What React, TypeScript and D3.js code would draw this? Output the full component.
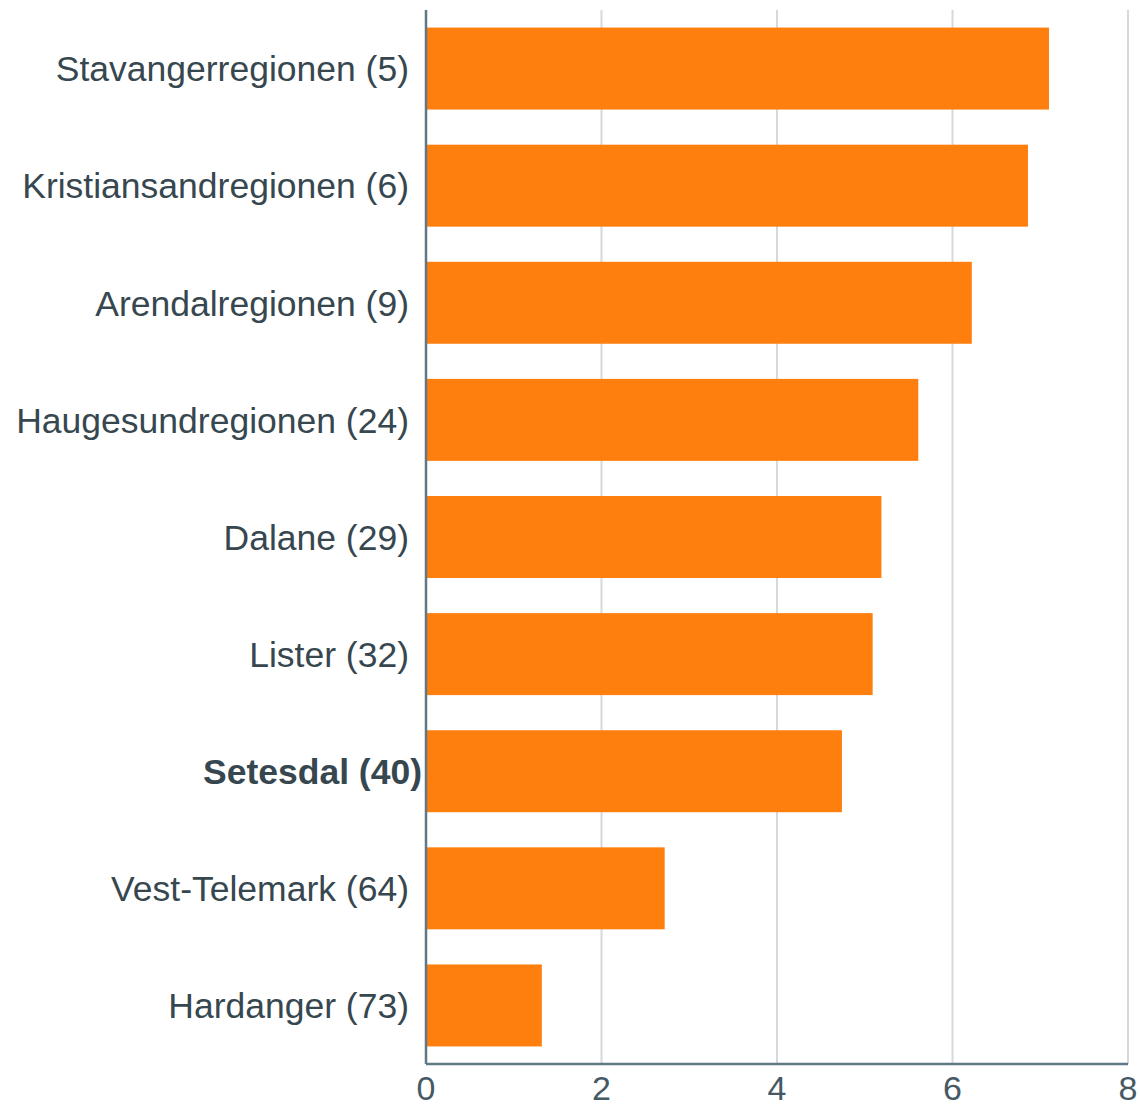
import { useEffect, useRef } from "react";
import * as d3 from "d3";

const regions = [
  "Stavangerregionen (5)",
  "Kristiansandregionen (6)",
  "Arendalregionen (9)",
  "Haugesundregionen (24)",
  "Dalane (29)",
  "Lister (32)",
  "Setesdal (40)",
  "Vest-Telemark (64)",
  "Hardanger (73)",
];
const values = [7.1, 6.86, 6.22, 5.61, 5.19, 5.09, 4.74, 2.72, 1.32];
const highlighted = ["Setesdal (40)"];
const xTicks = [0, 2, 4, 6, 8];

export default function App() {
  const reference = useRef<SVGSVGElement>(null);

  useEffect(() => {
    d3.select(reference.current).selectAll("*").remove();
    const width = 1140;
    const height = 1108;
    const margin = { top: 10, right: 12, bottom: 44, left: 426 };
    const svg = d3
      .select(reference.current)
      .attr("width", width)
      .attr("height", height);

    const x = d3
      .scaleLinear()
      .domain([0, 8])
      .range([margin.left, width - margin.right]);
    const y = d3
      .scaleBand<string>()
      .domain(regions)
      .range([margin.top, height - margin.bottom])
      .paddingInner(0.3)
      .paddingOuter(0.15);

    // vertical grid lines
    svg
      .append("g")
      .selectAll("line")
      .data(xTicks.filter((t) => t > 0))
      .enter()
      .append("line")
      .attr("x1", (d) => x(d))
      .attr("x2", (d) => x(d))
      .attr("y1", margin.top)
      .attr("y2", height - margin.bottom)
      .attr("stroke", "#d3dade")
      .attr("stroke-width", 2);

    svg
      .append("g")
      .selectAll("rect")
      .data(values)
      .enter()
      .append("rect")
      .attr("x", x(0))
      .attr("y", (d, i) => y(regions[i]) as number)
      .attr("width", (d) => x(d) - x(0))
      .attr("height", y.bandwidth())
      .attr("fill", "#ff7f0e");

    // axes
    svg
      .append("line")
      .attr("x1", x(0))
      .attr("x2", x(0))
      .attr("y1", margin.top)
      .attr("y2", height - margin.bottom)
      .attr("stroke", "#607883")
      .attr("stroke-width", 2.5);
    svg
      .append("line")
      .attr("x1", x(0))
      .attr("x2", x(8))
      .attr("y1", height - margin.bottom)
      .attr("y2", height - margin.bottom)
      .attr("stroke", "#607883")
      .attr("stroke-width", 2.5);

    svg
      .append("g")
      .selectAll("text")
      .data(regions)
      .enter()
      .append("text")
      .attr("x", (d) => x(0) - (highlighted.includes(d) ? 4 : 17))
      .attr("y", (d) => (y(d) as number) + y.bandwidth() / 2)
      .attr("dy", "0.36em")
      .attr("text-anchor", "end")
      .style("font-family", "'Liberation Sans', Arial, sans-serif")
      .style("font-size", "35.5px")
      .style("font-weight", (d) => (highlighted.includes(d) ? "bold" : "normal"))
      .style("fill", "#37474f")
      .text((d) => d);

    svg
      .append("g")
      .selectAll("text")
      .data(xTicks)
      .enter()
      .append("text")
      .attr("x", (d) => x(d))
      .attr("y", 1100)
      .attr("text-anchor", "middle")
      .style("font-family", "'Liberation Sans Narrow', 'Liberation Sans', sans-serif")
      .style("font-size", "34px")
      .style("fill", "#455a64")
      .text((d) => d);
  }, []);

  return (
    <svg
      ref={reference}
      style={{ position: "absolute", left: 0, top: 0, display: "block" }}
    ></svg>
  );
}
